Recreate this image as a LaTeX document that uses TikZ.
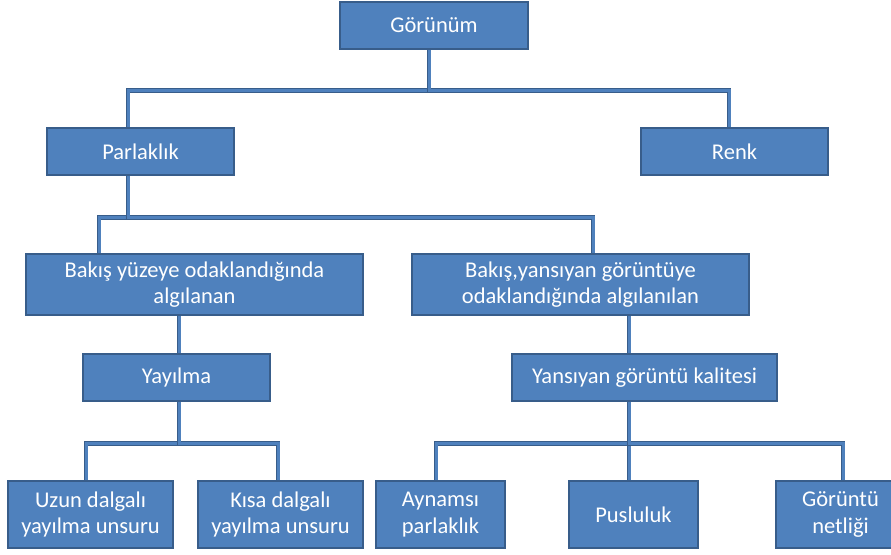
\documentclass[tikz,border=0pt]{standalone}
\usepackage{fontspec}
\setmainfont{Carlito}
\usetikzlibrary{backgrounds}
\definecolor{boxfill}{HTML}{4F81BD}
\definecolor{boxline}{HTML}{385D8A}
\begin{document}
\begin{tikzpicture}[x=1pt,y=-1pt,
  box/.style={draw=boxline, line width=1.5pt, fill=boxfill, text=white,
    font=\fontsize{22.5}{26.5}\selectfont, align=center, inner sep=0pt},
  conn/.style={draw=boxline, line width=0.9pt, double=boxfill,
    double distance=3pt, line join=miter}]
\useasboundingbox (0,0) rectangle (891,554);
% level 0
\node[box, minimum width=188pt, minimum height=47pt] (g) at (434,25.5) {Görünüm};
% level 1
\node[box, minimum width=187pt, minimum height=47pt] (p) at (140.5,151.5) {Parlaklık};
\node[box, minimum width=187pt, minimum height=47pt] (r) at (734.5,151.5) {Renk};
% level 2
\node[box, minimum width=337pt, minimum height=61pt] (b1) at (194.5,284.5) {Bakış yüzeye odaklandığında\\algılanan};
\node[box, minimum width=337pt, minimum height=61pt] (b2) at (580.5,284.5) {Bakış,yansıyan görüntüye\\odaklandığında algılanılan};
% level 3
\node[box, minimum width=187pt, minimum height=47pt] (y1) at (176.5,377.5) {Yayılma};
\node[box, minimum width=265pt, minimum height=47pt] (y2) at (644.5,377.5) {Yansıyan görüntü kalitesi};
% level 4
\node[box, minimum width=165pt, minimum height=67pt] (u) at (90.5,514.5) {Uzun dalgalı\\yayılma unsuru};
\node[box, minimum width=165pt, minimum height=67pt] (k) at (280.5,514.5) {Kısa dalgalı\\yayılma unsuru};
\node[box, minimum width=129pt, minimum height=67pt] (a) at (440.5,514.5) {Aynamsı\\parlaklık};
\node[box, minimum width=129pt, minimum height=67pt] (pu) at (633.5,514.5) {Pusluluk};
\node[box, minimum width=129pt, minimum height=67pt] (gn) at (840.5,514.5) {Görüntü\\netliği};
% connectors
\begin{scope}[on background layer]
\draw[conn] ([xshift=-5pt]g.south) -- ++(0,41) -| ([xshift=-12.5pt]p.north);
\draw[conn] ([xshift=-5pt]g.south) -- ++(0,41) -| ([xshift=-5.5pt]r.north);
\draw[conn] ([xshift=-12.5pt]p.south) -- ++(0,42) -| ([xshift=-95.5pt]b1.north);
\draw[conn] ([xshift=-12.5pt]p.south) -- ++(0,42) -| ([xshift=12.5pt]b2.north);
\draw[conn] ([xshift=-15.5pt]b1.south) -- ([xshift=2.5pt]y1.north);
\draw[conn] ([xshift=48.5pt]b2.south) -- ([xshift=-15.5pt]y2.north);
\draw[conn] ([xshift=2.5pt]y1.south) -- ++(0,42) -| ([xshift=-4.5pt]u.north);
\draw[conn] ([xshift=2.5pt]y1.south) -- ++(0,42) -| ([xshift=-2.5pt]k.north);
\draw[conn] ([xshift=-15.5pt]y2.south) -- ++(0,42) -| ([xshift=-4.5pt]a.north);
\draw[conn] ([xshift=-15.5pt]y2.south) -- ([xshift=-4.5pt]pu.north);
\draw[conn] ([xshift=-15.5pt]y2.south) -- ++(0,42) -| ([xshift=2.5pt]gn.north);
\end{scope}
\end{tikzpicture}
\end{document}
